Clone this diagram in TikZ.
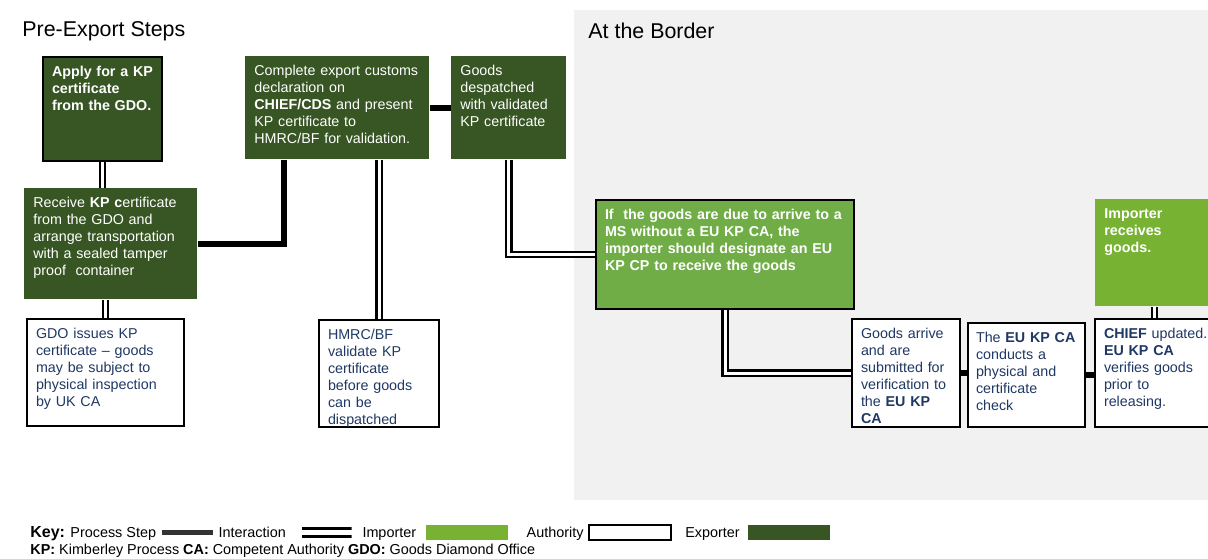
\documentclass[tikz,border=0pt]{standalone}
\usepackage{fontspec}
\setmainfont{Liberation Sans}
\usetikzlibrary{positioning}
\definecolor{exportgreen}{HTML}{375623}
\definecolor{importgreen}{HTML}{70AD47}
\definecolor{importlight}{HTML}{77B233}
\definecolor{bordergray}{HTML}{F1F1F1}
\definecolor{authnavy}{HTML}{1F3864}
\definecolor{keygray}{HTML}{333333}

\begin{document}
\hyphenpenalty=10000
\exhyphenpenalty=10000
\begin{tikzpicture}[x=0.5pt,y=-0.5pt,
  every node/.style={font=\fontsize{7.15}{8.5}\selectfont},
  stepbox/.style={anchor=north west,align=left,inner xsep=4.5pt,inner ysep=4.5pt,text height=5.2pt},
  boxsize/.style 2 args={text width=#1,text depth=#2},
  exporter/.style={stepbox,fill=exportgreen,text=white},
  importer/.style={stepbox,fill=importgreen,text=white},
  authority/.style={stepbox,fill=white,draw=black,line width=1pt,text=authnavy},
  process/.style={line width=3pt},
  interact/.style={double,double distance=1.5pt,line width=1.2pt},
  keytext/.style={inner sep=0pt,text height=6.2pt,text depth=1.7pt,font=\fontsize{7.2}{8.5}\selectfont},
  keyswatch/.style={inner sep=0pt,minimum width=41pt,minimum height=7.5pt},
  keybar/.style={inner sep=0pt,fill=keygray,minimum width=25.5pt,minimum height=2.5pt},
  keydouble/.style={inner sep=0pt,minimum width=25pt,minimum height=5.5pt,
    path picture={\fill (path picture bounding box.north west) rectangle ([yshift=-1.6pt]path picture bounding box.north east);
      \fill (path picture bounding box.south west) rectangle ([yshift=1.6pt]path picture bounding box.south east);}}
]
\clip (0,0) rectangle (1208,558);
\fill[white] (0,0) rectangle (1208,558);
\fill[bordergray] (574,10) rectangle (1208,500);

% section titles
\node[anchor=west,inner sep=0pt,font=\fontsize{10.7}{12}\selectfont] (pretitle) at (22,31) {Pre-Export Steps};
\node[anchor=west,inner sep=0pt,font=\fontsize{10.7}{12}\selectfont] (bordertitle) at (588,31) {At the Border};

% exporter steps
\node[exporter,draw=black,line width=1pt,boxsize={50.5pt}{37.8pt}] (apply) at (42,56)
  {\bfseries Apply for a KP\\\bfseries certificate\\\bfseries from the GDO.};
\node[exporter,boxsize={77.5pt}{41.3pt}] (receive) at (24,188)
  {Receive \textbf{KP c}ertificate\\from the GDO and\\arrange transportation\\with a sealed tamper\\proof\ \ container};
\node[exporter,boxsize={83pt}{37.3pt}] (complete) at (245,56)
  {Complete export customs\\declaration on\\\textbf{CHIEF/CDS} and present\\KP certificate to\\HMRC/BF for validation.};
\node[exporter,boxsize={48.5pt}{37.3pt}] (despatched) at (451,56)
  {Goods\\despatched\\with validated\\KP certificate};

% authority steps
\node[authority,boxsize={69.5pt}{39.3pt}] (gdo) at (26,318)
  {GDO issues KP\\certificate -- goods\\may be subject to\\physical inspection\\by UK CA};
\node[authority,boxsize={51pt}{39.3pt}] (hmrc) at (318,319)
  {HMRC/BF\\validate KP\\certificate\\before goods\\can be\\dispatched};
\node[authority,boxsize={45pt}{39.8pt}] (arrive) at (851,318)
  {Goods arrive\\and are\\submitted for\\verification to\\the \textbf{EU KP}\\\textbf{CA}};
\node[authority,inner xsep=4pt,boxsize={50.5pt}{37.8pt}] (euca) at (967,322)
  {The \textbf{EU KP CA}\\conducts a\\physical and\\certificate\\check};
\node[authority,boxsize={58pt}{39.8pt}] (chief) at (1094,318)
  {\textbf{CHIEF} updated.\\\textbf{EU KP CA}\\verifies goods\\prior to\\releasing.};

% importer steps
\node[importer,draw=black,line width=1pt,boxsize={120pt}{40.3pt}] (ifgoods) at (595,199)
  {\bfseries If\ \ the goods are due to arrive to a\\\bfseries MS without a EU KP CA, the\\\bfseries importer should designate an EU\\\bfseries KP CP to receive the goods};
\node[importer,fill=importlight,boxsize={52pt}{39.3pt}] (receives) at (1095,199)
  {\bfseries Importer\\\bfseries receives\\\bfseries goods.};

% process steps
\draw[process] (receive.east) -| ([xshift=-26.5pt]complete.south);
\draw[process] (complete.east) -- (despatched.west);
\draw[process] (arrive.east) -- (arrive.east -| euca.west);
\draw[process] (euca.east) -- (euca.east -| chief.west);

% interactions
\draw[interact] (apply.south) -- (apply.south |- receive.north);
\draw[interact] (gdo.north) -- (gdo.north |- receive.south);
\draw[interact] (hmrc.north) -- (hmrc.north |- complete.south);
\draw[interact] (despatched.south) |- (ifgoods.west);
\draw[interact] (ifgoods.south) |- (arrive.west);
\draw[interact] ([xshift=-1pt]receives.south) -- ([xshift=-1pt]receives.south |- chief.north);

% key
\node[keytext,anchor=west] (keyproc) at (30,532.5) {{\fontsize{8}{9}\selectfont\bfseries Key:} Process Step};
\node[keybar,right=2.5pt of keyproc] (keyprocbar) {};
\node[keytext,right=2.5pt of keyprocbar] (keyinter) {Interaction};
\node[keydouble,right=7.5pt of keyinter] (keyinterbar) {};
\node[keytext,right=5pt of keyinterbar] (keyimp) {Importer};
\node[keyswatch,fill=importlight,right=4.5pt of keyimp] (keyimpbox) {};
\node[keytext,right=9pt of keyimpbox] (keyauth) {Authority};
\node[keyswatch,draw=black,line width=1pt,fill=white,right=2pt of keyauth] (keyauthbox) {};
\node[keytext,right=6.5pt of keyauthbox] (keyexp) {Exporter};
\node[keyswatch,fill=exportgreen,right=3.5pt of keyexp] (keyexpbox) {};
\node[keytext,anchor=west] (keyabbr) at (30,550)
  {\textbf{KP:} Kimberley Process \textbf{CA:} Competent Authority \textbf{GDO:} Goods Diamond Office};
\end{tikzpicture}
\end{document}
